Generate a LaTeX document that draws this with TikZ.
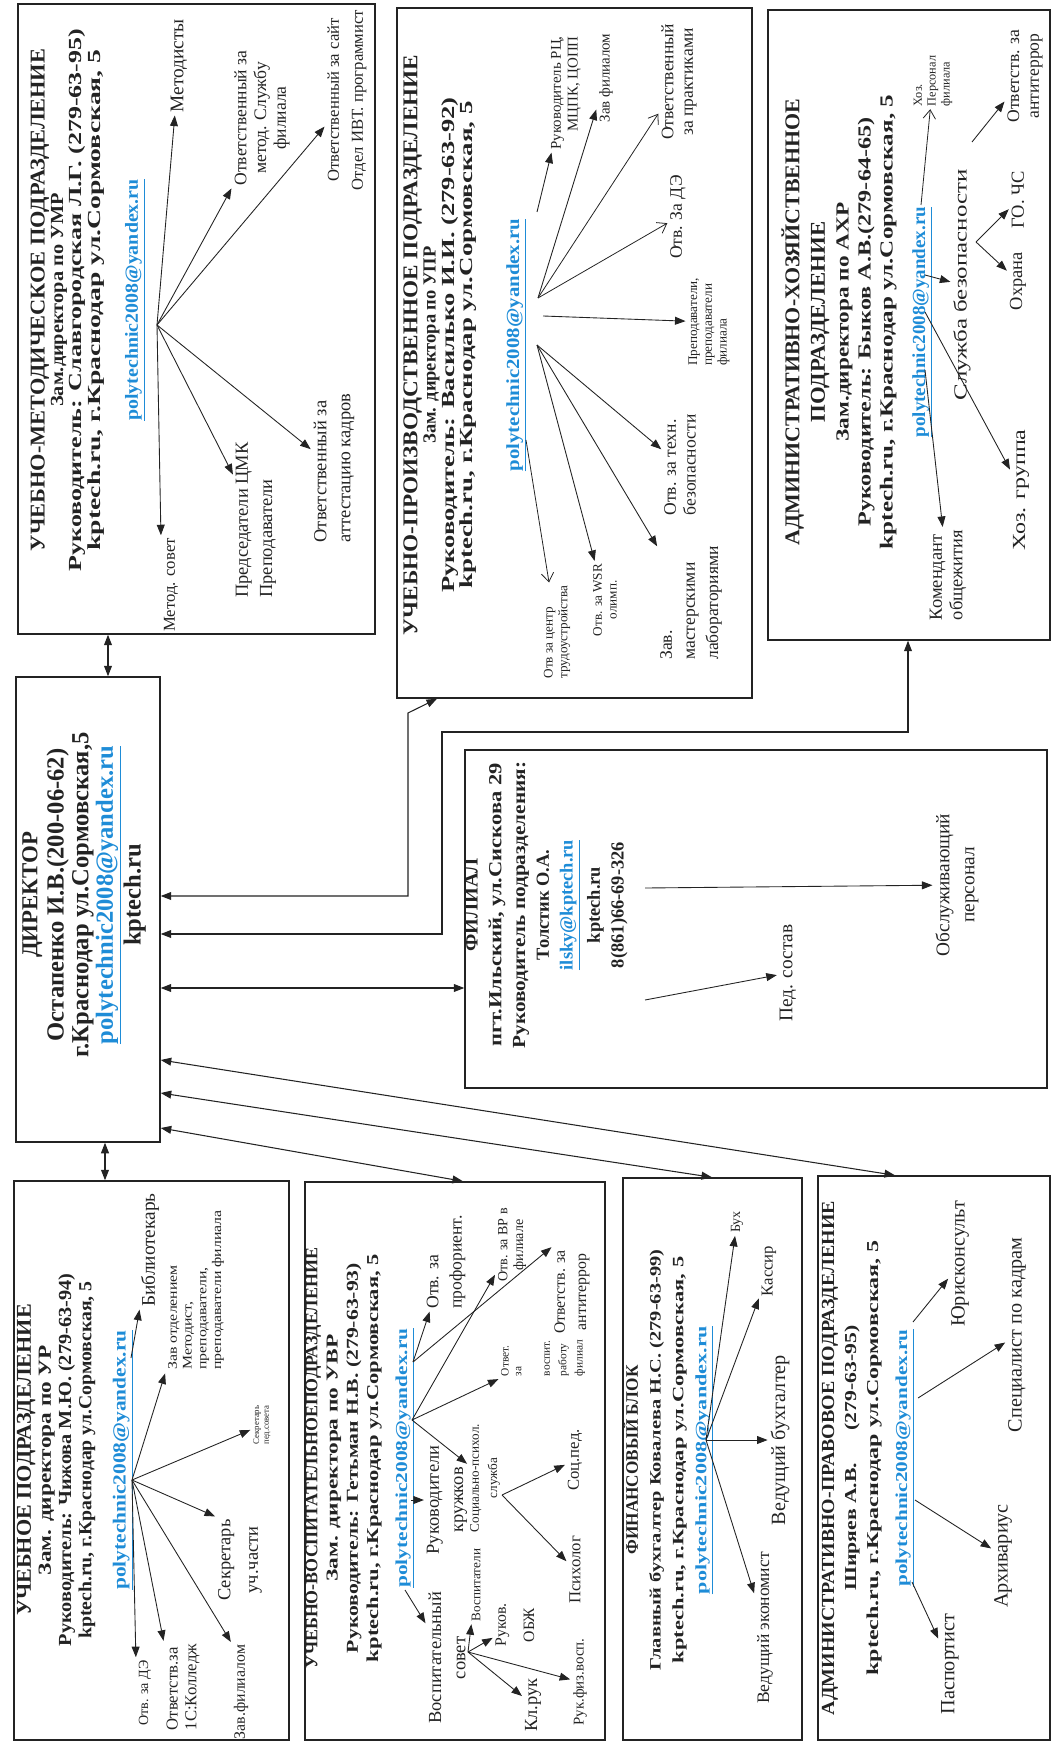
\documentclass[tikz,border=0pt]{standalone}
\usepackage{fontspec}
\setmainfont{Liberation Serif}
\usepackage{tikz}
\usetikzlibrary{arrows.meta,positioning,calc,fit}
\definecolor{ink}{RGB}{35,35,35}
\definecolor{mailblue}{RGB}{30,140,215}
\newcommand{\fs}[1]{\fontsize{#1}{\fpeval{#1*1.12}}\selectfont}
\newcommand{\hs}[1]{\fontsize{#1}{#1}\selectfont}
\newcommand{\sx}[2]{\scalebox{#1}[1]{#2}}
\newcommand{\polymail}[1][polytechnic2008@yandex.ru]{\textcolor{mailblue}{\underline{#1}}}
\tikzset{>={Triangle[length=6pt,width=4.5pt]}}
\tikzset{
    unit/.style={draw=ink,line width=0.8pt,inner sep=0pt},
    head/.style={rotate=90,align=center,inner sep=0pt,text=ink,font=\bfseries\hs{#1}},
    head/.default=10.5,
    item/.style={rotate=90,align=center,inner sep=1.5pt,text=ink,font=\fs{#1}},
    item/.default=10.5,
    link/.style={->,draw=ink,line width=0.5pt},
    open/.style={-{Straight Barb[length=5pt,width=7pt]},draw=ink,line width=0.45pt},
    both/.style={<->,draw=ink,line width=0.6pt},
}

\begin{document}
\begin{tikzpicture}[x=0.2mm,y=-0.2mm]
    \useasboundingbox (0,0) rectangle (1055,1742);
    % рамки подразделений
    \node[unit,fit={(18,4)(375,634)}] (um) {};
    \node[unit,fit={(397,8)(752,698)}] (up) {};
    \node[unit,fit={(768,10)(1050,640)}] (ah) {};
    \node[unit,fit={(16,677)(160,1142)}] (dir) {};
    \node[unit,fit={(465,750)(1047,1088)}] (fil) {};
    \node[unit,fit={(14,1181)(289,1740)}] (uch) {};
    \node[unit,fit={(305,1182)(605,1740)}] (uv) {};
    \node[unit,fit={(623,1178)(802,1740)}] (fb) {};
    \node[unit,fit={(818,1176)(1050,1740)}] (ap) {};

    % точки, из которых расходятся стрелки
    \foreach \c/\p in {umhub/{157,325},
        upA/{537,212}, upB/{538,298}, upC/{543,316}, upD/{537,345}, upE/{526,440},
        ahA/{921,205}, ahB/{925,275}, ahC/{925,312}, ahD/{925,370},
        sbtop/{972,142}, sbmid/{976,242},
        filA/{645,888}, filB/{645,1000},
        uchA/{131,1358}, uchB/{132,1480},
        uvA/{413,1362}, uvB/{412,1420}, uvC/{411,1500}, uvD/{405,1590},
        sovet/{468,1652}, sluzh/{502,1495},
        fbhub/{706,1440},
        apA/{913,1322}, apB/{918,1398}, apC/{915,1500}, apD/{912,1582}}
        \coordinate (\c) at (\p);

    % директор
    \node[head=14] (dirh) at (84,895) {{\hs{13}ДИРЕКТОР}\\[1pt]
        Остапенко И.В.(200-06-62)\\
        г.Краснодар ул.Сормовская,5\\
        \polymail\\
        kptech.ru};

    % учебно-методическое
    \node[head] (umh) at (88,300) {\sx{1.06}{\hs{12}УЧЕБНО-МЕТОДИЧЕСКОЕ ПОДРАЗДЕЛЕНИЕ}\\
        \sx{1.1}{Зам.директора  по УМР}\\
        \sx{1.41}{Руководитель: Славгородская Л.Г.  (279-63-95)}\\
        \sx{1.5}{kptech.ru, г.Краснодар ул.Сормовская, 5}\\[11pt]
        \sx{1.08}{\polymail}};
    \node[item=11] (met) at (179,66) {Методисты};
    \node[item=10] (sluz) at (262,118) {Ответственный за\\метод. Службу\\филиала};
    \node[item=9.5] (sait) at (347,100) {Ответственный за сайт\\[3pt]Отдел ИВТ.  программист};
    \node[item=10.5,align=left] (attest) at (334,468) {Ответственный за\\[2pt]аттестацию кадров};
    \node[item=10.5,align=left] (cmk) at (256,520) {Председатели ЦМК\\[2pt]Преподаватели};
    \node[item=9.5] (msov) at (171,585) {Метод. совет};
    \foreach \n in {met,sait,attest,cmk}
        \draw[link] (umhub) -- (\n);
    \draw[link] (umhub) -- (sluz.north west);
    \draw[link] (umhub) -- (msov.north east);

    % учебно-производственное
    \node[head] (uph) at (465,345) {\sx{1.1}{\hs{12}УЧЕБНО-ПРОИЗВОДСТВЕННОЕ ПОДРАЗДЕЛЕНИЕ}\\
        Зам. директора по УПР\\
        \sx{1.44}{Руководитель: Василько И.И. (279-63-92)}\\
        \sx{1.46}{kptech.ru, г.Краснодар ул.Сормовская, 5}\\[16pt]
        \sx{1.13}{\polymail}};
    \node[item=8.5,align=right] (rc) at (566,93) {Руководитель РЦ,\\МЦПК, ЦОПП};
    \node[item=8.5] (zf) at (606,78) {Зав  филиалом};
    \node[item=10] (prakt) at (679,82) {Ответственный\\за практиками};
    \node[item=10] (dz) at (678,217) {Отв. За ДЭ};
    \node[item=7.5,align=left] (prep) at (709,322) {Преподаватели,\\преподаватели\\филиала};
    \node[item=10,align=left] (tb) at (680,465) {Отв. за техн.\\безопасности};
    \node[item=10,align=left] (mast) at (691,603) {Зав.\\[2pt]мастерскими\\[2pt]лабораториями};
    \node[item=7.5] (wsr) at (605,600) {Отв. за WSR\\олимп.};
    \node[item=7.5,align=left] (ctr) at (557,632) {Отв за центр\\трудоустройства};
    \foreach \c/\n in {upA/rc,upB/zf,upC/prep,upD/tb,upD/mast,upD/wsr}
        \draw[link] (\c) -- (\n);
    \foreach \c/\n in {upB/prakt,upB/dz,upE/ctr}
        \draw[open] (\c) -- (\n);

    % административно-хозяйственное
    \node[head] (ahh) at (857,322) {\sx{1.04}{\hs{12}АДМИНИСТРАТИВНО-ХОЗЯЙСТВЕННОЕ}\\[3pt]
        \sx{1.08}{\hs{12}ПОДРАЗДЕЛЕНИЕ}\\[3pt]
        \sx{1.26}{Зам.директора по АХР}\\[2pt]
        \sx{1.31}{Руководитель: Быков А.В.(279-64-65)}\\[2pt]
        \sx{1.36}{kptech.ru, г.Краснодар ул.Сормовская, 5}\\[8pt]
        \sx{1.03}{\polymail}};
    \node[item=7,align=left] (hozp) at (933,81) {Хоз.\\Персонал\\филиала};
    \node[item,xscale=1.35] (sb) at (962,285) {Служба безопасности};
    \node[item=10] (anti) at (1025,76) {Ответств. за\\антитеррор};
    \node[item] (gochs) at (1018,200) {ГО. ЧС};
    \node[item] (ohr) at (1018,281) {Охрана};
    \node[item,xscale=1.3] (hozg) at (1021,490) {Хоз. группа};
    \node[item,align=left] (kom) at (948,575) {Комендант\\общежития};
    \foreach \c/\n in {ahB/sb,ahC/hozg,ahD/kom,sbtop/anti,sbmid/gochs,sbmid/ohr}
        \draw[link] (\c) -- (\n);
    \draw[open] (ahA) -- (hozp);

    % филиал
    \node[head=10.5] (filh) at (546,905) {{\hs{11.5}ФИЛИАЛ}\\[3pt]
        \sx{1.22}{пгт.Ильский, ул.Сискова 29}\\[3pt]
        \sx{1.15}{Руководитель подразделения:}\\[3pt]
        Толстик О.А.\\[3pt]
        \polymail[ilsky@kptech.ru]\\[3pt]
        kptech.ru\\[3pt]
        8(861)66-69-326};
    \node[item=11] (ped) at (788,973) {Пед. состав};
    \node[item=11] (obs) at (957,885) {Обслуживающий\\[2pt]персонал};
    \draw[link] (filA) -- (obs);
    \draw[link] (filB) -- (ped);

    % учебное подразделение
    \node[head] (uchh) at (75,1460) {\sx{1.05}{\hs{12}УЧЕБНОЕ ПОДРАЗДЕЛЕНИЕ}\\[1pt]
        \sx{1.26}{Зам. директора по УР}\\[1pt]
        \sx{1.1}{Руководитель: Чижова М.Ю. (279-63-94)}\\[1pt]
        \sx{1.07}{kptech.ru, г.Краснодар ул.Сормовская, 5}\\[9pt]
        \sx{1.16}{\polymail}};
    \node[item=11] (bib) at (150,1250) {Библиотекарь};
    \node[item=7.5,align=left,xscale=1.2] (zo) at (196,1290) {Зав  отделением\\Методист,\\преподаватели,\\преподаватели филиала};
    \node[item=5] (spc) at (262,1425) {Секретарь\\пед.совета};
    \node[item=10.5] (suc) at (240,1560) {Секретарь\\[4pt]уч.части};
    \node[item=9] (zfl) at (241,1692) {Зав.филиалом};
    \node[item=9.5,align=left] (kol) at (183,1687) {Ответств.за\\1С:Колледж};
    \node[item=8] (dez) at (145,1693) {Отв. за ДЭ};
    \draw[link] (uchA) -- (bib);
    \draw[link] (uchB) -- (zo.north west);
    \draw[link] (uchB) -- (spc);
    \foreach \n in {suc,zfl,kol,dez}
        \draw[link] (uchB) -- (\n.north east);

    % учебно-воспитательное
    \node[head=9.5] (uvh) at (360,1458) {\sx{1.02}{\hs{10}УЧЕБНО-ВОСПИТАТЕЛЬНОЕПОДРАЗДЕЛЕНИЕ}\\[2pt]
        \sx{1.4}{Зам. директора по УВР}\\[2pt]
        \sx{1.3}{Руководитель: Гетьман Н.В. (279-63-93)}\\[2pt]
        \sx{1.35}{kptech.ru, г.Краснодар ул.Сормовская, 5}\\[7pt]
        \sx{1.28}{\polymail}};
    \node[item=10,align=left] (prof) at (446,1262) {Отв. за\\[2pt]профориент.};
    \node[item=8] (vrf) at (512,1245) {Отв. за ВР в\\филиале};
    \node[item=6.5,align=left] (otvr) at (543,1358) {Ответ.\\за\\[9pt]воспит.\\[2pt]работу\\[2pt]филиал};
    \node[item=9] (antv) at (572,1292) {Ответств. за\\[2pt]антитеррор};
    \node[item=10.5] (kruz) at (447,1500) {Руководители\\[2pt]кружков};
    \node[item=7.5] (sps) at (485,1478) {Социально-психол.\\[2pt]служба};
    \node[item=10.5] (vsov) at (447,1658) {Воспитательный\\[2pt]совет};
    \node[item=7.5] (vos) at (476,1585) {Воспитатели};
    \node[item=9] (rob) at (515,1625) {Руков.\\[6pt]ОБЖ};
    \node[item=10.5] (klr) at (533,1705) {Кл.рук};
    \node[item=8.5] (rfv) at (580,1682) {Рук.физ.восп.};
    \node[item=9.5] (psy) at (575,1570) {Психолог};
    \node[item=9.5] (socp) at (575,1460) {Соц.пед.};
    \foreach \c/\n in {uvA/prof,uvB/vrf,uvB/otvr,uvB/sps,uvC/kruz,uvD/vsov,
        sovet/vos,sovet/rob,sovet/klr,sovet/rfv,sluzh/psy,sluzh/socp}
        \draw[link] (\c) -- (\n);
    \draw[link] (uvA) -- (antv.north east);

    % финансовый блок
    \node[head=9] (fbh) at (668,1460) {\sx{0.98}{\hs{10}ФИНАНСОВЫЙ БЛОК}\\[4pt]
        \sx{1.29}{Главный бухгалтер  Ковалева Н.С. (279-63-99)}\\[4pt]
        \sx{1.42}{kptech.ru, г.Краснодар ул.Сормовская, 5}\\[4pt]
        \sx{1.4}{\polymail}};
    \node[item=8] (bux) at (737,1222) {Бух};
    \node[item=9.5] (kas) at (769,1271) {Кассир};
    \node[item=11.5] (vbux) at (780,1440) {Ведущий бухгалтер};
    \node[item=10] (vek) at (765,1628) {Ведущий экономист};
    \foreach \n in {bux,kas,vbux,vek}
        \draw[link] (fbhub) -- (\n);

    % административно-правовое
    \node[head=9.5] (aph) at (868,1458) {\sx{1.08}{\hs{10.5}АДМИНИСТРАТИВНО-ПРАВОВОЕ ПОДРАЗДЕЛЕНИЕ}\\[3pt]
        \sx{1.3}{Ширяев А.В.\hspace{1.5em}(279-63-95)}\\[3pt]
        \sx{1.44}{kptech.ru, г.Краснодар ул.Сормовская, 5}\\[7pt]
        \sx{1.27}{\polymail}};
    \node[item=11.5] (jur) at (960,1264) {Юрисконсульт};
    \node[item=11.5] (spk) at (1017,1335) {Специалист по кадрам};
    \node[item=11.5] (arh) at (1003,1556) {Архивариус};
    \node[item=11.5] (pas) at (950,1664) {Паспортист};
    \foreach \c/\n in {apA/jur,apB/spk,apC/arh,apD/pas}
        \draw[link] (\c) -- (\n);

    % связи с директором
    \path (dir.north) ++(20,0) coordinate (dn);
    \path (dir.south) ++(17,0) coordinate (ds);
    \draw[both] (dn) -- (dn |- um.south);
    \draw[both] (ds) -- (ds |- uch.north);
    \draw[both] (dir.east |- 0,896) -| (408,713) -- (up.south -| 437,0);
    \draw[both] (dir.east |- 0,934) -| (442,732) -| (ah.south -| 908,0);
    \draw[both] (dir.east |- 0,988) -- (fil.west |- 0,988);
    \draw[both] (dir.east |- 0,1060) -- (ap.north -| 895,0);
    \draw[both] (dir.east |- 0,1093) -- (fb.north -| 712,0);
    \draw[both] (dir.east |- 0,1128) -- (uv.north -| 463,0);
\end{tikzpicture}
\end{document}
